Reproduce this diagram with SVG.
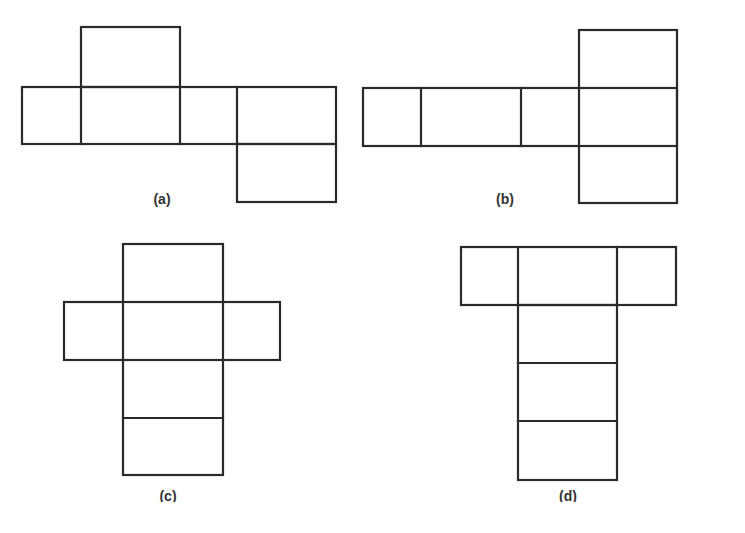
<svg xmlns="http://www.w3.org/2000/svg" width="745" height="533" viewBox="0 0 745 533">
<style>
.ln{fill:none;stroke:#2a2a2a;stroke-width:2.2;stroke-linejoin:miter;stroke-linecap:square}
.lb{font-family:"Liberation Sans",Arial,sans-serif;font-size:14px;font-weight:bold;fill:#333;text-anchor:middle}
</style>
<defs>
<clipPath id="cut"><rect x="0" y="0" width="745" height="502"/></clipPath>
</defs>
<rect width="745" height="533" fill="#fff"/>
<g id="net-a">
<rect class="ln" x="81" y="27" width="99" height="60"/>
<rect class="ln" x="22" y="87" width="314" height="57"/>
<line class="ln" x1="81" y1="87" x2="81" y2="144"/>
<line class="ln" x1="180" y1="87" x2="180" y2="144"/>
<line class="ln" x1="237" y1="87" x2="237" y2="144"/>
<rect class="ln" x="237" y="144" width="99" height="58"/>
<text class="lb" x="162" y="204">(a)</text>
</g>
<g id="net-b">
<rect class="ln" x="363" y="88" width="314" height="58"/>
<line class="ln" x1="421" y1="88" x2="421" y2="146"/>
<line class="ln" x1="521" y1="88" x2="521" y2="146"/>
<rect class="ln" x="579" y="30" width="98" height="173"/>
<text class="lb" x="505" y="204">(b)</text>
</g>
<g id="net-c">
<rect class="ln" x="123" y="244" width="100" height="231"/>
<rect class="ln" x="64" y="302" width="216" height="58"/>
<line class="ln" x1="123" y1="418" x2="223" y2="418"/>
<text class="lb" x="168" y="501" clip-path="url(#cut)">(c)</text>
</g>
<g id="net-d">
<rect class="ln" x="461" y="247" width="215" height="58"/>
<line class="ln" x1="518" y1="247" x2="518" y2="305"/>
<line class="ln" x1="617" y1="247" x2="617" y2="305"/>
<rect class="ln" x="518" y="305" width="99" height="175"/>
<line class="ln" x1="518" y1="363" x2="617" y2="363"/>
<line class="ln" x1="518" y1="421" x2="617" y2="421"/>
<text class="lb" x="568" y="501" clip-path="url(#cut)">(d)</text>
</g>
<g id="connectors"/>
</svg>
